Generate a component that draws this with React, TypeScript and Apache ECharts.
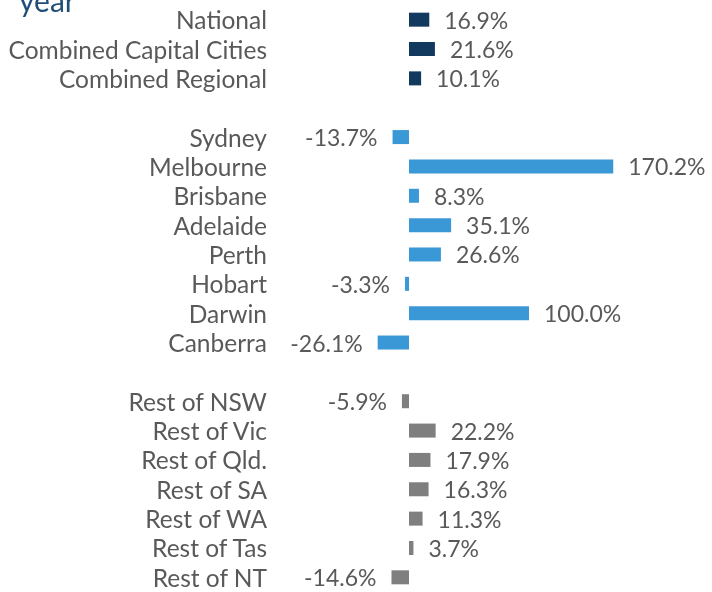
import React, { useEffect, useRef } from "react";
import * as echarts from "echarts";

const nationalCategories = ["National", "Combined Capital Cities", "Combined Regional"];
const nationalValues = [16.9, 21.6, 10.1];
const cityCategories = ["Sydney", "Melbourne", "Brisbane", "Adelaide", "Perth", "Hobart", "Darwin", "Canberra"];
const cityValues = [-13.7, 170.2, 8.3, 35.1, 26.6, -3.3, 100.0, -26.1];
const regionalCategories = ["Rest of NSW", "Rest of Vic", "Rest of Qld.", "Rest of SA", "Rest of WA", "Rest of Tas", "Rest of NT"];
const regionalValues = [-5.9, 22.2, 17.9, 16.3, 11.3, 3.7, -14.6];

const NAVY = "#123A5E";
const BLUE = "#3A98D6";
const GRAY = "#7F7F7F";
const TEXT = "#595959";
const FONT = "Lato";

export default function App() {
  const ref = useRef<HTMLDivElement>(null);
  useEffect(() => {
    if (!ref.current) return;
    const chart = echarts.init(ref.current, null, { renderer: "svg" });
    const categories: string[] = [];
    const data: any[] = [];
    const addGroup = (cats: string[], vals: number[], color: string) => {
      cats.forEach((c, i) => {
        categories.push(c);
        const v = vals[i];
        data.push({
          value: v,
          itemStyle: { color },
          label: { position: v < 0 ? "left" : "right" },
        });
      });
    };
    addGroup(nationalCategories, nationalValues, NAVY);
    categories.push(" ");
    data.push({ value: null });
    addGroup(cityCategories, cityValues, BLUE);
    categories.push("  ");
    data.push({ value: null });
    addGroup(regionalCategories, regionalValues, GRAY);

    chart.setOption({
      animation: false,
      grid: { left: 289, width: 360, top: 5, bottom: -5 },
      xAxis: {
        type: "value",
        min: -100,
        max: 200,
        show: false,
        splitLine: { show: false },
      },
      yAxis: {
        type: "category",
        data: categories,
        inverse: true,
        axisLine: { show: false, onZero: false },
        axisTick: { show: false },
        axisLabel: {
          interval: 0,
          margin: 22,
          color: TEXT,
          fontFamily: FONT,
          fontSize: 24.5,
        },
      },
      graphic: [
        {
          type: "text",
          left: 19,
          top: -15,
          style: { text: "year", fontSize: 30, fontFamily: FONT, fill: "#1F4E79" },
        },
      ],
      series: [
        {
          type: "bar",
          barWidth: 14,
          data,
          label: {
            show: true,
            distance: 15,
            color: TEXT,
            fontFamily: FONT,
            fontSize: 23,
            formatter: (p: any) => (p.value == null ? "" : p.value.toFixed(1) + "%"),
          },
        },
      ],
    });
    return () => chart.dispose();
  }, []);
  return <div ref={ref} style={{ position: "fixed", left: 0, top: 0, width: 712, height: 592 }} />;
}
